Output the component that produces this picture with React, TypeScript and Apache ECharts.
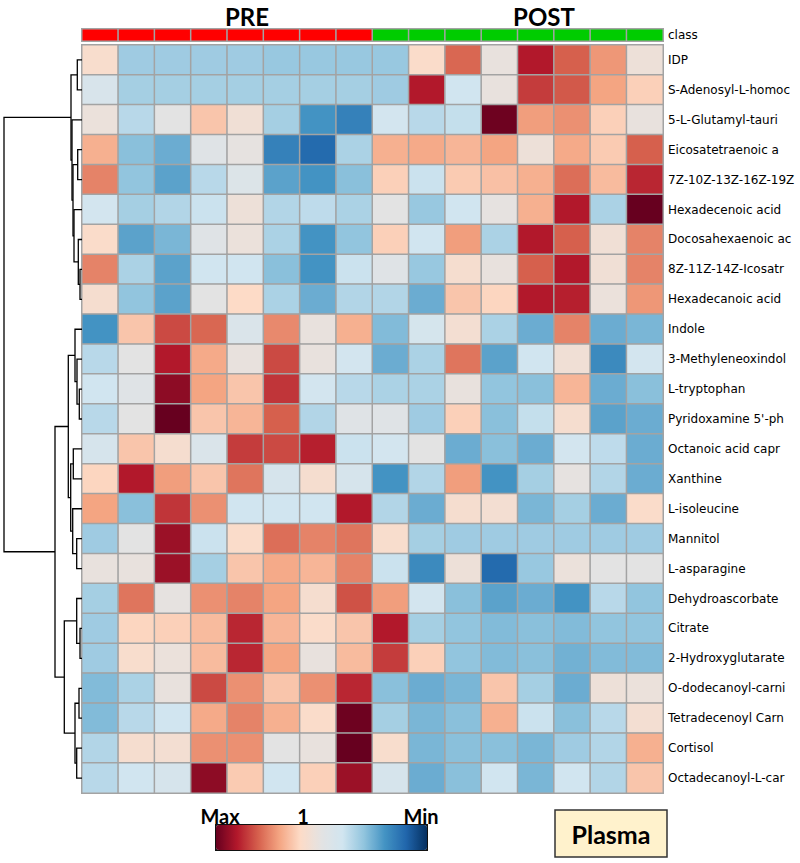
import React, { useEffect, useRef } from "react";
import * as echarts from "echarts";

// ---- data ----
const samples = [
  "PRE-1", "PRE-2", "PRE-3", "PRE-4", "PRE-5", "PRE-6", "PRE-7", "PRE-8",
  "POST-1", "POST-2", "POST-3", "POST-4", "POST-5", "POST-6", "POST-7", "POST-8",
];
const sampleClass = [0, 0, 0, 0, 0, 0, 0, 0, 1, 1, 1, 1, 1, 1, 1, 1]; // 0 = PRE, 1 = POST
const classNames = ["PRE", "POST"];

const metabolites = [
  "IDP",
  "S-Adenosyl-L-homoc",
  "5-L-Glutamyl-tauri",
  "Eicosatetraenoic a",
  "7Z-10Z-13Z-16Z-19Z",
  "Hexadecenoic acid",
  "Docosahexaenoic ac",
  "8Z-11Z-14Z-Icosatr",
  "Hexadecanoic acid",
  "Indole",
  "3-Methyleneoxindol",
  "L-tryptophan",
  "Pyridoxamine 5'-ph",
  "Octanoic acid capr",
  "Xanthine",
  "L-isoleucine",
  "Mannitol",
  "L-asparagine",
  "Dehydroascorbate",
  "Citrate",
  "2-Hydroxyglutarate",
  "O-dodecanoyl-carni",
  "Tetradecenoyl Carn",
  "Cortisol",
  "Octadecanoyl-L-car",
];

// relative abundance (scaled): negative = lower (blue), positive = higher (red)
const rowIDP = [0.8, -1.8, -1.8, -1.8, -1.8, -1.9, -1.9, -1.9, -1.9, 0.9, 2.9, 0.2, 4.0, 3.0, 2.2, 0.4];
const rowSAdenosyl = [-0.6, -1.7, -1.7, -1.7, -1.7, -1.7, -1.7, -1.7, -1.8, 4.0, -1.0, 0.2, 3.5, 3.1, 2.0, 1.2];
const rowGlutamyl = [0.3, -1.4, 0, 1.4, 0.5, -1.7, -3.0, -3.4, -0.9, -1.4, -1.2, 4.9, 2.1, 2.3, 1.2, 0.2];
const rowEicosa = [1.8, -2.1, -2.5, -0.2, 0.1, -3.4, -3.9, -1.6, 1.8, 1.9, 1.7, 2.0, 0.4, 1.9, 1.3, 3.0];
const row7Z = [2.5, -2.0, -2.7, -1.4, -0.4, -2.7, -3.0, -2.1, 1.2, -1.1, 1.3, 1.5, 1.8, 2.8, 1.6, 3.8];
const rowHexadecenoic = [-0.9, -1.7, -1.5, -1.1, 0.4, -1.5, -1.3, -1.6, 0, -1.9, -1.0, 0.1, 1.8, 4.0, -1.6, 5.0];
const rowDocosa = [0.9, -2.7, -2.3, -0.2, 0.3, -1.6, -3.0, -2.0, 1.2, -1.0, 2.1, -1.6, 4.0, 3.0, 0.5, 2.5];
const row8Z = [2.5, -1.6, -2.7, -1.0, -1.0, -2.1, -3.0, -1.1, -0.2, -1.9, 0.7, 0.2, 3.0, 4.0, 0.5, 2.5];
const rowHexadecanoic = [0.7, -2.0, -2.7, 0, 1.0, -1.6, -2.5, -1.5, -1.5, -2.5, 1.4, 1.1, 4.0, 3.9, 0.3, 2.2];
const rowIndole = [-3.0, 1.4, 3.3, 2.9, -0.5, 2.4, 0.2, 1.8, -2.2, -0.8, 0.6, -1.6, -2.5, 2.5, -2.5, -2.3];
const rowMethylene = [-1.4, 0, 4.0, 1.9, 0.2, 3.3, 0.2, -0.9, -2.5, -1.6, 2.7, -2.7, -1.0, 0.5, -3.2, -0.9];
const rowTryptophan = [-1.0, -0.2, 4.5, 2.0, 1.4, 3.6, -0.9, -1.4, -1.6, -1.6, 0.2, -2.0, -2.1, 1.7, -2.5, -2.1];
const rowPyridoxamine = [-1.4, 0, 5.0, 1.4, 1.7, 3.0, -1.5, -0.2, -0.2, -1.8, 1.2, -2.1, -1.2, 0.7, -2.7, -2.5];
const rowOctanoic = [-0.7, 1.4, 0.7, -0.5, 3.5, 3.3, 3.9, -1.1, -0.9, 0, -2.5, -2.1, -2.5, -0.9, -1.3, -2.5];
const rowXanthine = [1.1, 4.0, 2.1, 1.4, 2.7, -0.7, 0.7, -0.7, -3.0, -1.5, 2.1, -3.0, -1.7, 0.1, -1.5, -2.5];
const rowIsoleucine = [2.0, -2.1, 3.6, 2.3, -1.0, -1.0, -1.0, 4.0, -1.5, -2.5, 0.7, 0.6, -2.3, -1.7, -2.5, 0.9];
const rowMannitol = [-1.8, 0, 4.3, -1.1, 0.9, 2.8, 2.5, 2.7, 0.8, -1.7, -1.8, -1.8, -1.8, -1.8, -1.8, -1.8];
const rowAsparagine = [0.2, 0.2, 4.3, -1.7, 1.4, 1.9, 1.7, 2.5, -1.1, -3.2, 0.4, -3.9, -1.9, 0.3, 0, 0];
const rowDehydro = [-1.7, 2.7, 0.1, 2.3, 2.5, 2.0, 0.7, 3.2, 2.1, -0.9, -2.1, -2.7, -2.5, -3.0, -1.4, -2.0];
const rowCitrate = [-1.8, 1.1, 1.2, 1.6, 3.8, 1.7, 0.9, 1.4, 4.0, -1.7, -2.0, -2.2, -2.1, -2.2, -2.0, -2.0];
const rowHydroxyglut = [-1.8, 0.8, 0.3, 1.6, 3.8, 2.0, 0.2, 1.6, 3.5, 1.2, -2.0, -2.2, -2.1, -2.4, -2.2, -2.2];
const rowDodecanoyl = [-2.2, -1.6, 0.2, 3.3, 2.3, 1.4, 2.3, 3.8, -2.1, -2.5, -2.3, 1.4, -1.7, -2.5, 0.4, 0.3];
const rowTetradecenoyl = [-2.2, -1.4, -1.0, 1.9, 2.5, 1.8, 0.9, 4.9, -1.7, -2.3, -2.1, 1.8, -1.1, -2.1, -1.4, 0.6];
const rowCortisol = [-1.5, 0.7, 0.6, 2.3, 2.3, 0, 0.2, 5.0, 0.8, -2.3, -2.1, -2.1, -2.3, -1.8, -1.5, 1.8];
const rowOctadecanoyl = [-1.4, -1.0, -0.7, 4.5, 1.3, -1.0, 1.2, 4.3, -0.7, -2.5, -2.1, -1.0, -2.3, -1.0, -1.5, 1.4];

const values = [
  rowIDP, rowSAdenosyl, rowGlutamyl, rowEicosa, row7Z, rowHexadecenoic, rowDocosa, row8Z,
  rowHexadecanoic, rowIndole, rowMethylene, rowTryptophan, rowPyridoxamine, rowOctanoic,
  rowXanthine, rowIsoleucine, rowMannitol, rowAsparagine, rowDehydro, rowCitrate,
  rowHydroxyglut, rowDodecanoyl, rowTetradecenoyl, rowCortisol, rowOctadecanoyl,
];

// row dendrogram linkage: [childA, childB, height]; ids >= 25 refer to earlier merges
const linkage: [number, number, number][] = [
  [0, 1, 0.47],
  [3, 4, 0.43],
  [7, 8, 0.2],
  [6, 27, 0.37],
  [5, 28, 0.8],
  [26, 29, 0.9],
  [2, 30, 1.0],
  [25, 31, 1.1],
  [11, 12, 0.27],
  [10, 33, 0.5],
  [9, 34, 0.7],
  [13, 14, 0.87],
  [16, 17, 0.53],
  [15, 37, 0.93],
  [36, 38, 1.13],
  [35, 39, 1.37],
  [19, 20, 0.2],
  [18, 41, 0.53],
  [21, 22, 0.3],
  [23, 24, 0.53],
  [43, 44, 0.7],
  [42, 45, 1.77],
  [40, 46, 2.7],
  [32, 47, 7.8],
];

const colorScale = [
  "#053061", "#2166ac", "#4393c3", "#92c5de", "#d1e5f0", "#e3e3e3",
  "#fddbc7", "#f4a582", "#d6604d", "#b2182b", "#67001f",
];
const classColors = ["#ff0000", "#00cc00"];

export default function App() {
  const ref = useRef<HTMLDivElement>(null);

  useEffect(() => {
    if (!ref.current) return;
    const chart = echarts.init(ref.current, null, { renderer: "svg" });

    const heatData: number[][] = [];
    values.forEach((row, r) => row.forEach((v, c) => heatData.push([c, r, v])));
    const classData = sampleClass.map((k, c) => [c, 0, k]);

    const n = metabolites.length;
    const pos: number[] = [];
    const hgt: number[] = [];
    for (let i = 0; i < n; i++) {
      pos[i] = i;
      hgt[i] = 0;
    }
    const segs: any[] = [];
    linkage.forEach(([a, b, h], k) => {
      const id = n + k;
      pos[id] = (pos[a] + pos[b]) / 2;
      hgt[id] = h;
      segs.push({
        coords: [
          [hgt[a], pos[a]],
          [h, pos[a]],
          [h, pos[b]],
          [hgt[b], pos[b]],
        ],
      });
    });

    const labelStyle = {
      fontSize: 12,
      color: "#000",
      fontFamily: "DejaVu Sans",
      margin: 5,
      interval: 0,
    };

    chart.setOption({
      animation: false,
      grid: [
        { left: 82, top: 45, width: 581, height: 748 },
        { left: 82, top: 29, width: 581, height: 12 },
        { left: 2, top: 45, width: 80, height: 748 },
      ],
      xAxis: [
        { gridIndex: 0, type: "category", data: samples, show: false },
        { gridIndex: 1, type: "category", data: samples, show: false },
        { gridIndex: 2, type: "value", min: 0, max: 8, inverse: true, show: false },
      ],
      yAxis: [
        {
          gridIndex: 0,
          type: "category",
          data: metabolites,
          inverse: true,
          position: "right",
          axisLine: { show: false },
          axisTick: { show: false },
          axisLabel: labelStyle,
        },
        {
          gridIndex: 1,
          type: "category",
          data: ["class"],
          position: "right",
          axisLine: { show: false },
          axisTick: { show: false },
          axisLabel: labelStyle,
        },
        { gridIndex: 2, type: "value", min: -0.5, max: 24.5, inverse: true, show: false },
      ],
      visualMap: [
        {
          type: "continuous",
          seriesIndex: 0,
          min: -5,
          max: 5,
          orient: "horizontal",
          inverse: true,
          left: 216,
          top: 825,
          itemWidth: 25,
          itemHeight: 211,
          padding: 0,
          calculable: false,
          hoverLink: false,
          inRange: { color: colorScale },
        },
        {
          type: "piecewise",
          seriesIndex: 1,
          show: false,
          pieces: classNames.map((name, i) => ({ value: i, label: name, color: classColors[i] })),
        },
      ],
      series: [
        {
          type: "heatmap",
          xAxisIndex: 0,
          yAxisIndex: 0,
          data: heatData,
          itemStyle: { borderColor: "#a3a3a3", borderWidth: 1.5 },
          emphasis: { disabled: true },
          silent: true,
        },
        {
          type: "heatmap",
          xAxisIndex: 1,
          yAxisIndex: 1,
          data: classData,
          itemStyle: { borderColor: "#a3a3a3", borderWidth: 1.5 },
          emphasis: { disabled: true },
          silent: true,
        },
        {
          type: "lines",
          coordinateSystem: "cartesian2d",
          xAxisIndex: 2,
          yAxisIndex: 2,
          polyline: true,
          data: segs,
          lineStyle: { color: "#000", width: 1.3, opacity: 1 },
          silent: true,
        },
      ],
      graphic: [
        {
          type: "text",
          style: {
            text: "PRE", x: 247, y: 16, textAlign: "center", textVerticalAlign: "middle",
            fontFamily: "Lato", fontWeight: "bold", fontSize: 24, fill: "#000",
          },
        },
        {
          type: "text",
          style: {
            text: "POST", x: 544, y: 16, textAlign: "center", textVerticalAlign: "middle",
            fontFamily: "Lato", fontWeight: "bold", fontSize: 24, fill: "#000",
          },
        },
        {
          type: "rect",
          shape: { x: 216, y: 825, width: 211, height: 25 },
          style: { fill: "none", stroke: "#111", lineWidth: 2 },
          silent: true,
        },
        {
          type: "text",
          style: {
            text: "Max", x: 220, y: 816, textAlign: "center", textVerticalAlign: "middle",
            fontFamily: "Lato", fontWeight: "bold", fontSize: 20, fill: "#000",
          },
        },
        {
          type: "text",
          style: {
            text: "1", x: 303, y: 816, textAlign: "center", textVerticalAlign: "middle",
            fontFamily: "Lato", fontWeight: "bold", fontSize: 20, fill: "#000",
          },
        },
        {
          type: "text",
          style: {
            text: "Min", x: 421, y: 816, textAlign: "center", textVerticalAlign: "middle",
            fontFamily: "Lato", fontWeight: "bold", fontSize: 20, fill: "#000",
          },
        },
        {
          type: "rect",
          shape: { x: 555, y: 810, width: 112, height: 47 },
          style: { fill: "#fff2cc", stroke: "#333", lineWidth: 1.5 },
        },
        {
          type: "text",
          style: {
            text: "Plasma", x: 611, y: 834, textAlign: "center", textVerticalAlign: "middle",
            fontFamily: "Lato", fontWeight: "bold", fontSize: 25, fill: "#000",
          },
        },
      ],
    });

    return () => chart.dispose();
  }, []);

  return (
    <div
      ref={ref}
      style={{ position: "absolute", left: 0, top: 0, width: 800, height: 863 }}
    />
  );
}
